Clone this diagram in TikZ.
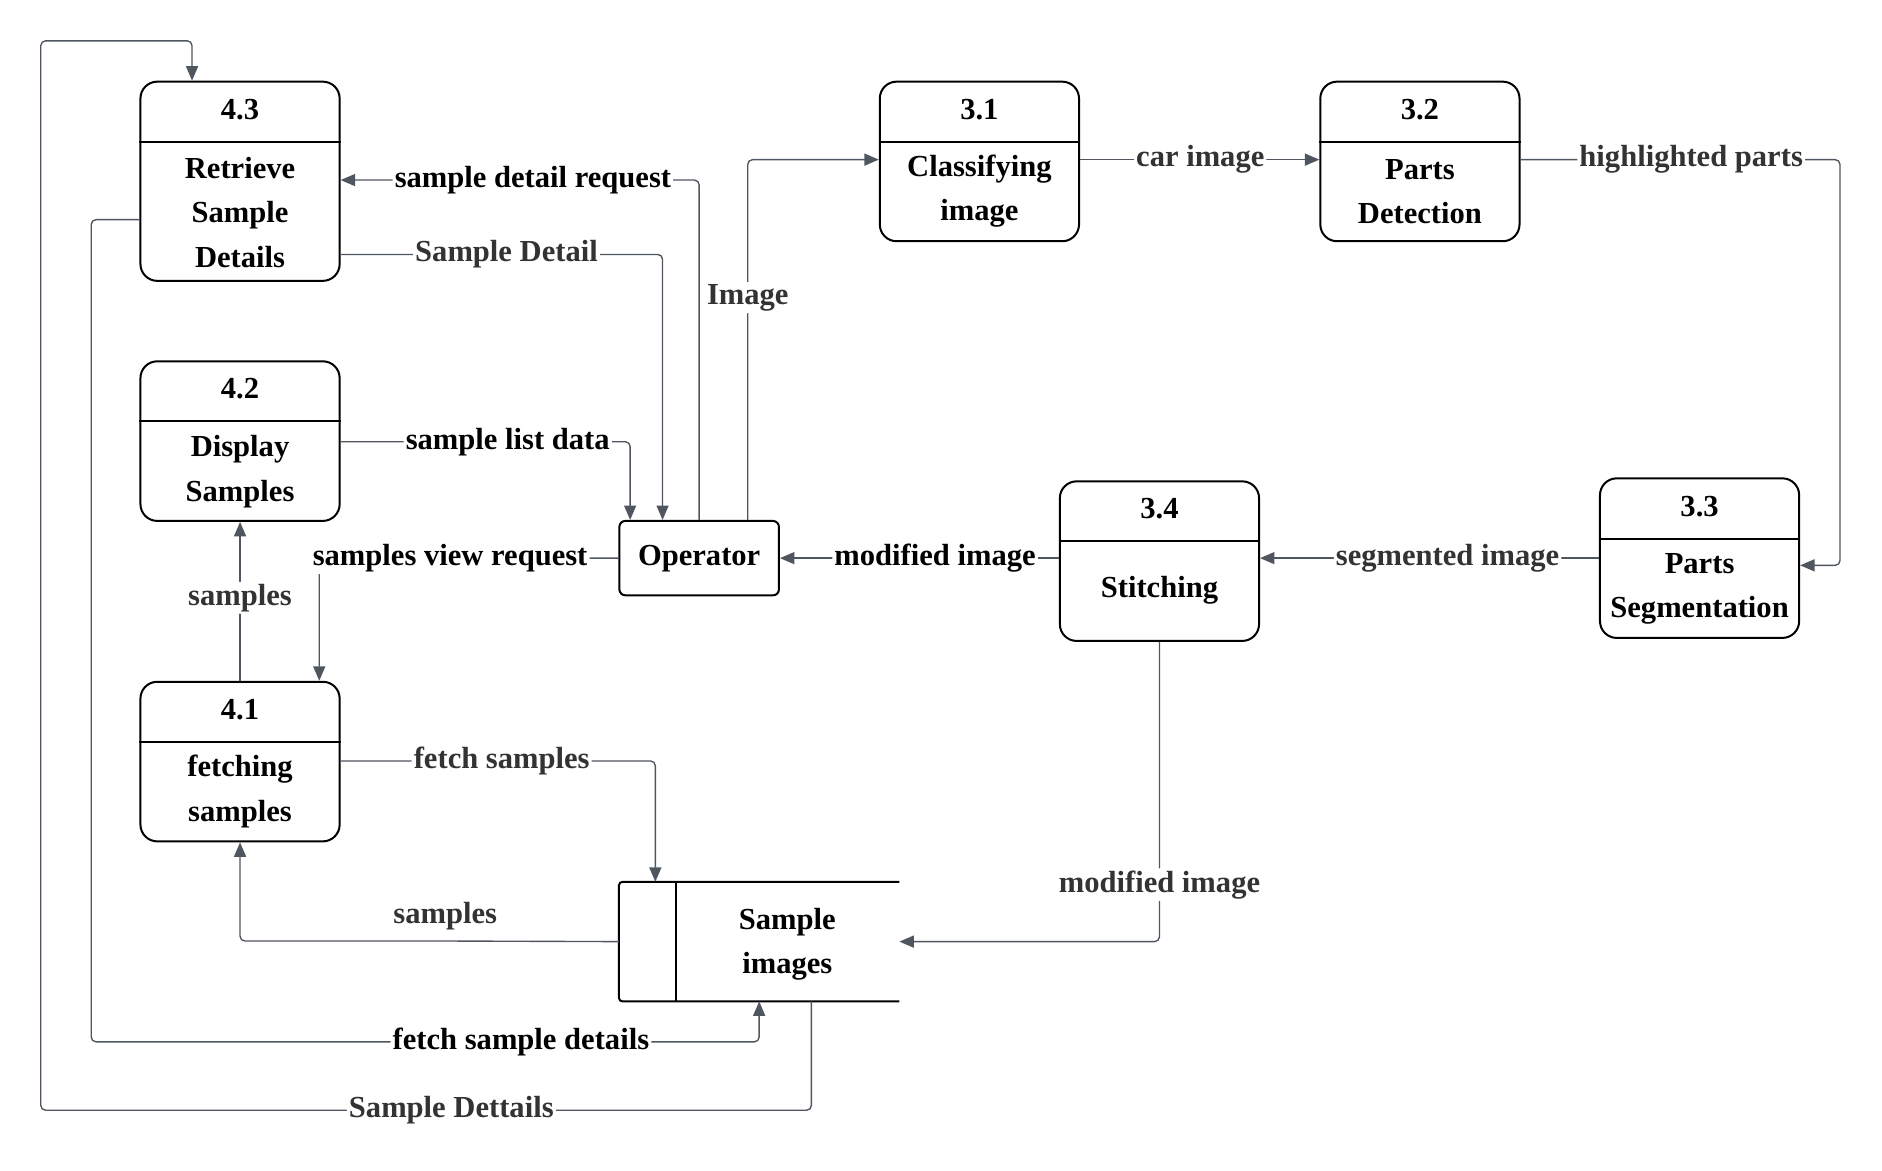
\documentclass[tikz,border=0pt]{standalone}
\usepackage{fontspec}
\setmainfont{Liberation Serif}
\usetikzlibrary{arrows.meta}
\definecolor{linegray}{HTML}{50565F}
\definecolor{textgray}{HTML}{333333}

\begin{document}
\begin{tikzpicture}[x=0.02cm, y=-0.02cm,
        font=\fontsize{14.5}{21}\selectfont\bfseries,
        proc/.style={draw, line width=0.95pt, rounded corners=0.28cm, minimum width=3.32cm, minimum height=2.66cm, inner sep=0pt},
        flow/.style={draw=linegray, line width=0.65pt, rounded corners=0.08cm, -{Triangle[length=0.24cm, width=0.2cm]}},
        lbl/.style={fill=white, inner sep=1pt, text=black},
        lblg/.style={fill=white, inner sep=1pt, text=textgray}]
        \useasboundingbox (0,0) rectangle (1568,975);

        % processes 4.x
        \node[proc, minimum height=3.32cm] (p43) at (200,151) {};
        \draw[line width=0.95pt] (p43.west |- 0,118) -- (p43.east |- 0,118);
        \node (p43n) at (200,91) {4.3};
        \node[align=center] (p43t) at (200,177) {Retrieve\\Sample\\Details};
        \node[proc] (p42) at (200,367.5) {};
        \draw[line width=0.95pt] (p42.west |- 0,351) -- (p42.east |- 0,351);
        \node (p42n) at (200,324) {4.2};
        \node[align=center] (p42t) at (200,393) {Display\\Samples};
        \node[proc] (p41) at (200,634.5) {};
        \draw[line width=0.95pt] (p41.west |- 0,618) -- (p41.east |- 0,618);
        \node (p41n) at (200,591) {4.1};
        \node[align=center] (p41t) at (200,659.5) {fetching\\samples};

        % processes 3.x
        \node[proc] (p31) at (816,134.5) {};
        \draw[line width=0.95pt] (p31.west |- 0,118) -- (p31.east |- 0,118);
        \node (p31n) at (816,91) {3.1};
        \node[align=center] (p31t) at (816,159.5) {Classifying\\image};
        \node[proc] (p32) at (1183,134.5) {};
        \draw[line width=0.95pt] (p32.west |- 0,118) -- (p32.east |- 0,118);
        \node (p32n) at (1183,91) {3.2};
        \node[align=center] (p32t) at (1183,159.5) {Parts\\Detection};
        \node[proc] (p33) at (1416,465) {};
        \draw[line width=0.95pt] (p33.west |- 0,449) -- (p33.east |- 0,449);
        \node (p33n) at (1416,422) {3.3};
        \node[align=center] (p33t) at (1416,490.5) {Parts\\Segmentation};
        \node[proc] (p34) at (966,467.5) {};
        \draw[line width=0.95pt] (p34.west |- 0,451) -- (p34.east |- 0,451);
        \node (p34n) at (966,424) {3.4};
        \node (p34t) at (966,491.5) {Stitching};

        % operator and data store
        \node[draw, line width=0.95pt, rounded corners=0.1cm, minimum width=2.66cm, minimum height=1.24cm] (op) at (582.5,465) {Operator};
        \node[minimum width=4.66cm, minimum height=1.98cm, inner sep=0pt] (store) at (632.5,784.5) {};
        \draw[line width=0.95pt, rounded corners=0.06cm] (store.north east) -- (store.north west) -- (store.south west) -- (store.south east);
        \draw[line width=0.95pt] (store.north -| 563,0) -- (store.south -| 563,0);
        \node[align=center] (storet) at (656,787) {Sample\\images};

        % flows
        \draw[flow] (p43.west |- 0,183) -| (76,868) -- (434,868) node[lbl] {fetch sample details} -| (store.south);
        \draw[flow] (store.south -| 676,0) |- (376,925) node[lblg] {Sample Dettails} -| (34,34) -| (p43.north -| 160,0);
        \draw[flow] (op.north) |- (444,150) node[lbl] {sample detail request} -- (p43.east |- 0,150);
        \draw[flow] (p43.east |- 0,212) -- (422,212) node[lblg] {Sample Detail} -| (op.north -| 552,0);
        \draw[flow] (op.north -| 623,0) -- (623,248) node[lblg] {Image} |- (p31.west |- 0,133);
        \draw[flow] (p31.east |- 0,133) -- (1000,133) node[lblg] {car image} -- (p32.west |- 0,133);
        \draw[flow] (p32.east |- 0,133) -- (1409,133) node[lblg] {highlighted parts} -| (1533,471) -- (p33.east |- 0,471);
        \draw[flow] (p33.west |- 0,465) -- (1206,465) node[lblg] {segmented image} -- (p34.east |- 0,465);
        \draw[flow] (p34.west |- 0,465) -- (779,465) node[lbl] {modified image} -- (op.east);
        \draw[flow] (p34.south) -- (966,737) node[lblg] {modified image} |- (store.east);
        \draw[flow] (p42.east |- 0,368) -- (423,368) node[lbl] {sample list data} -| (op.north -| 525,0);
        \draw[flow] (op.west) -- (375,465) node[lbl] {samples view request} -| (p41.north -| 266,0);
        \draw[flow] (p41.north) -- (200,498) node[lblg] {samples} -- (p42.south);
        \draw[flow] (p41.east |- 0,634) -- (418,634) node[lblg] {fetch samples} -| (store.north -| 546,0);
        \draw[flow] (store.west) -- (371,784) node[lblg, above=4pt] {samples} -| (p41.south);
    \end{tikzpicture}
\end{document}
